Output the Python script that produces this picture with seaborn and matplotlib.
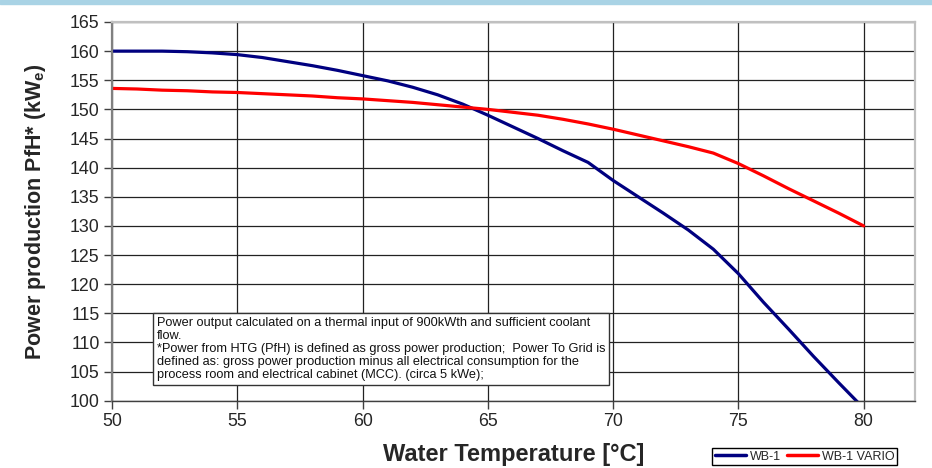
import matplotlib
matplotlib.use("Agg")
import matplotlib.pyplot as plt
import seaborn as sns
import pandas as pd
from matplotlib.patches import Rectangle

# water temperature in °C
temp = [50, 51, 52, 53, 54, 55, 56, 57, 58, 59, 60, 61, 62, 63, 64, 65,
        66, 67, 68, 69, 70, 71, 72, 73, 74, 75, 76, 77, 78, 79, 80]

# power production (kWe)
wb1 = [160.0, 160.0, 160.0, 159.9, 159.7, 159.4, 158.9, 158.2, 157.5, 156.7,
       155.8, 154.9, 153.8, 152.5, 150.9, 149.0, 147.0, 145.0, 142.9, 140.9,
       137.8, 135.0, 132.2, 129.3, 126.0, 121.8, 116.9, 112.3, 107.6, 103.1, 98.7]
wb1_vario = [153.6, 153.5, 153.3, 153.2, 153.0, 152.9, 152.7, 152.5, 152.3, 152.0,
             151.8, 151.5, 151.2, 150.8, 150.4, 150.0, 149.5, 149.0, 148.3, 147.5,
             146.6, 145.6, 144.6, 143.6, 142.5, 140.7, 138.6, 136.4, 134.3, 132.2, 130.0]

series_names = ["WB-1", "WB-1 VARIO"]
series_colors = ["#000080", "#ff0000"]

note = ("Power output calculated on a thermal input of 900kWth and sufficient coolant\n"
        "flow.\n"
        "*Power from HTG (PfH) is defined as gross power production;  Power To Grid is\n"
        "defined as: gross power production minus all electrical consumption for the\n"
        "process room and electrical cabinet (MCC). (circa 5 kWe);")

df = pd.concat([
    pd.DataFrame({"temp": temp, "power": wb1, "series": series_names[0]}),
    pd.DataFrame({"temp": temp, "power": wb1_vario, "series": series_names[1]}),
])

sns.set_style("white")
plt.rcParams["font.family"] = ["Liberation Sans", "DejaVu Sans"]
plt.rcParams["mathtext.fontset"] = "custom"
plt.rcParams["mathtext.rm"] = "Liberation Sans"
plt.rcParams["mathtext.bf"] = "Liberation Sans:bold"

fig = plt.figure(figsize=(9.32, 4.68), dpi=100)
ax = fig.add_axes([0.1202, 0.1438, 0.8616, 0.8092])

# light blue band at the top of the slide
fig.patches.append(Rectangle((0, 0.991), 1, 0.009, transform=fig.transFigure,
                             color="#a9d3e5", zorder=0))

sns.lineplot(data=df, x="temp", y="power", hue="series",
             palette=dict(zip(series_names, series_colors)),
             linewidth=2.3, legend=False, ax=ax, sort=False)

ax.set_xlim(50, 82.05)
ax.set_ylim(100, 165)
ax.set_xticks(range(50, 81, 5))
ax.set_yticks(range(100, 166, 5))
ax.grid(True, color="#222222", linewidth=0.9)
ax.set_axisbelow(True)

ax.tick_params(axis="both", direction="out", length=6, width=1, color="#404040",
               labelsize=12.8, pad=3, left=True, bottom=True)

ax.spines["left"].set_color("#808080")
ax.spines["left"].set_linewidth(1.6)
ax.spines["bottom"].set_color("#404040")
ax.spines["bottom"].set_linewidth(1.0)
ax.spines["top"].set_color("#c0c0c0")
ax.spines["top"].set_linewidth(1.6)
ax.spines["right"].set_color("#c0c0c0")
ax.spines["right"].set_linewidth(1.6)

ax.set_xlabel("Water Temperature [°C]", fontsize=17, fontweight="bold")
ax.set_ylabel(r"Power production PfH* (kW$_\mathbf{e}$)", fontsize=15.5, fontweight="bold")
ax.xaxis.set_label_coords(0.5, -0.112)
ax.yaxis.set_label_coords(-0.08, 0.5)

ax.text(0.056, 0.222, note, transform=ax.transAxes, fontsize=9.2, va="top", ha="left",
        linespacing=1.12, color="#111111", zorder=5,
        bbox=dict(boxstyle="square,pad=0.3", facecolor="white", edgecolor="#333333",
                  linewidth=1.0))

handles = [plt.Line2D([], [], color=c, linewidth=2.5) for c in series_colors]
fig.legend(handles, series_names, loc="lower right", bbox_to_anchor=(0.9625, 0.006),
           ncol=2, fontsize=9, frameon=True, fancybox=False, edgecolor="black",
           framealpha=1, borderpad=0.2, handlelength=2.5, handletextpad=0.3,
           columnspacing=0.5, borderaxespad=0)

fig.savefig("out.png", dpi=100)
